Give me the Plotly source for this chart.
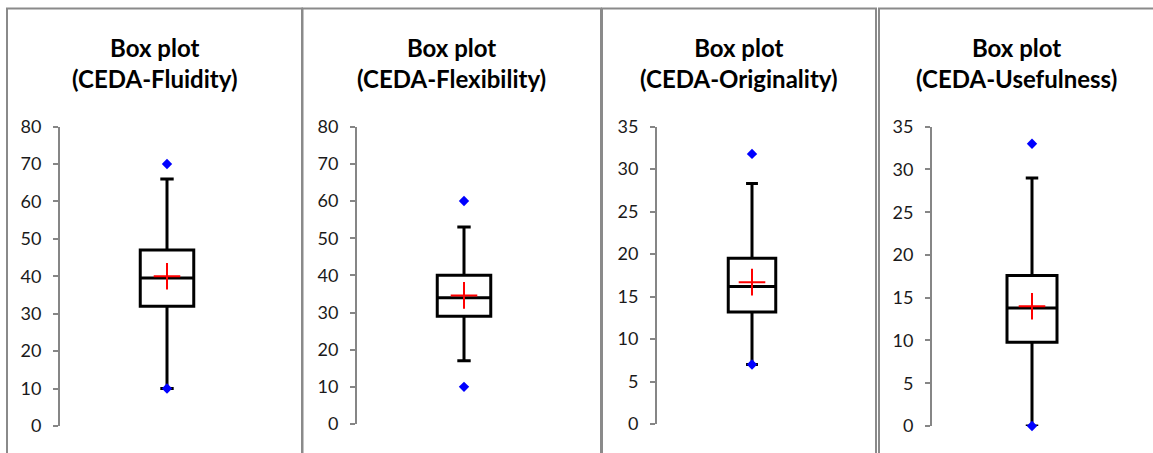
import plotly.graph_objects as go

# Summary statistics of the four CEDA scores
categories = ["CEDA-Fluidity", "CEDA-Flexibility", "CEDA-Originality", "CEDA-Usefulness"]
q1 = [32, 29, 13.2, 9.8]
median = [39.5, 34, 16.2, 13.8]
q3 = [47, 40, 19.5, 17.6]
lower_whisker = [10, 17, 7, 0]
upper_whisker = [66, 53, 28.3, 29]
means = [40, 34.6, 16.7, 14]
minimums = [10, 10, 7, 0]
maximums = [70, 60, 31.8, 33]
y_max = [80, 80, 35, 35]
y_step = [10, 10, 5, 5]

W, H = 1153, 453

# pixel layout of each panel: y-axis position, box centre, y=0 row, y=max row
axis_px = [60, 357, 657, 932]
centre_px = [167, 464, 752, 1032]
zero_px = [426, 424, 424, 426]
top_px = [126.5, 126.7, 126.7, 126.7]
frames = [(7, 302), (302.5, 601), (602, 876), (879, 1175)]

AXIS_GREY = "#868686"

fig = go.Figure()
layout = dict(
    width=W, height=H,
    margin=dict(l=0, r=0, t=0, b=0, pad=0, autoexpand=False),
    paper_bgcolor="white", plot_bgcolor="white",
    showlegend=False,
    hovermode=False,
)
annotations = []
shapes = []

for i, name in enumerate(categories):
    n = i + 1
    xa = "x" if n == 1 else f"x{n}"
    ya = "y" if n == 1 else f"y{n}"

    x0 = axis_px[i] / W
    x1 = (2 * centre_px[i] - axis_px[i]) / W
    ydom = [1 - zero_px[i] / H, 1 - top_px[i] / H]
    ticks = list(range(0, y_max[i] + 1, y_step[i]))

    layout[f"xaxis{'' if n == 1 else n}"] = dict(
        domain=[x0, x1], range=[0, 2], visible=False, anchor=ya,
        automargin=False, fixedrange=True)
    layout[f"yaxis{'' if n == 1 else n}"] = dict(
        domain=ydom, range=[0, y_max[i]], anchor=xa,
        tickvals=ticks, ticks="outside", ticklen=5, tickwidth=2, tickcolor=AXIS_GREY,
        showline=True, linecolor=AXIS_GREY, linewidth=2,
        showgrid=False, zeroline=False, automargin=False,
        tickfont=dict(family="Lato", size=18, color="#1a1a1a"),
        ticklabelstandoff=8, fixedrange=True)
    # inner half of the crossing tick marks
    layout[f"yaxis{n + 4}"] = dict(
        domain=ydom, range=[0, y_max[i]], anchor=xa, overlaying=ya,
        tickvals=ticks, ticks="inside", ticklen=6, tickwidth=2, tickcolor=AXIS_GREY,
        showticklabels=False, showline=False, showgrid=False, zeroline=False,
        automargin=False, fixedrange=True)

    fig.add_trace(go.Box(
        x=[1], q1=[q1[i]], median=[median[i]], q3=[q3[i]],
        lowerfence=[lower_whisker[i]], upperfence=[upper_whisker[i]],
        width=0.5, whiskerwidth=0.25, boxpoints=False,
        fillcolor="rgba(0,0,0,0)", line=dict(color="black", width=3),
        xaxis=xa, yaxis=ya, name=name))
    fig.add_trace(go.Scatter(
        x=[1, 1], y=[minimums[i], maximums[i]], mode="markers",
        marker=dict(symbol="diamond", size=8, color="#0000FF"),
        cliponaxis=False, xaxis=xa, yaxis=ya))
    fig.add_trace(go.Scatter(
        x=[1], y=[means[i]], mode="markers",
        marker=dict(symbol="cross-thin", size=19, line=dict(color="#FF0000", width=2)),
        cliponaxis=False, xaxis=xa, yaxis=ya))

    fl, fr = frames[i]
    annotations.append(dict(
        x=(fl + min(fr, 1153)) / 2 / W, y=1 - 31 / H, xref="paper", yref="paper",
        xanchor="center", yanchor="top", showarrow=False,
        text=f"<b>Box plot</b><br><b>({name})</b>",
        font=dict(family="Lato", size=24, color="black")))
    shapes.append(dict(
        type="rect", xref="paper", yref="paper",
        x0=fl / W, x1=fr / W, y0=-0.2, y1=1 - 8.5 / H,
        line=dict(color="#8a8a8a", width=2), layer="below"))

layout["annotations"] = annotations
layout["shapes"] = shapes
fig.update_layout(**layout)

fig.write_html("out.html")
